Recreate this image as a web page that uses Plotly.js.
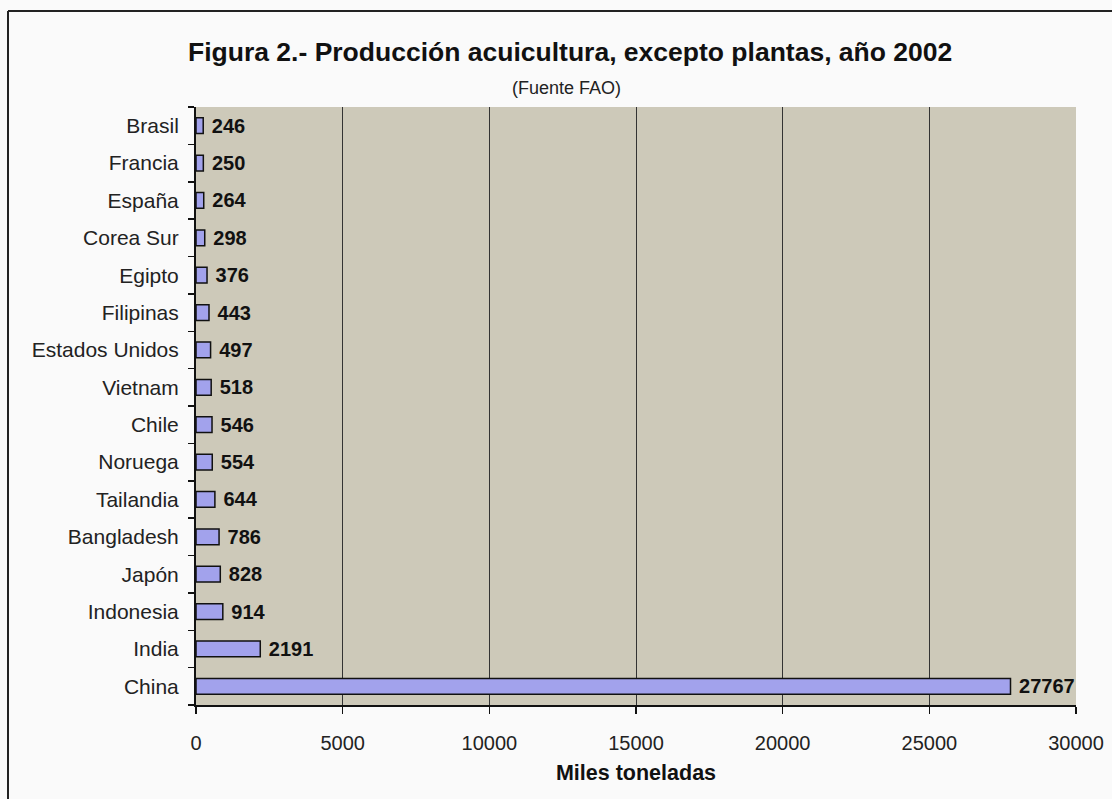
<!DOCTYPE html>
<html>
<head>
<meta charset="utf-8">
<script src="https://cdn.plot.ly/plotly-3.0.1.min.js"></script>
<style>html,body{margin:0;padding:0;background:#fafafa;}</style>
</head>
<body>
<div id="chart" style="width:1112px;height:799px;"></div>
<script>
const countries = ["China","India","Indonesia","Japón","Bangladesh","Tailandia","Noruega","Chile","Vietnam","Estados Unidos","Filipinas","Egipto","Corea Sur","España","Francia","Brasil"];
const values = [27767,2191,914,828,786,644,554,546,518,497,443,376,298,264,250,246];
const xTicks = [0,5000,10000,15000,20000,25000,30000];
const titleText = "Figura 2.- Producción acuicultura, excepto plantas, año 2002";
const subtitleText = "(Fuente FAO)";
const xTitle = "Miles toneladas";

const FONT = "Liberation Sans, Arial, sans-serif";
const trace = {
  type: "bar",
  orientation: "h",
  y: countries,
  x: values,
  width: 0.42,
  marker: {color: "#a2a2ec", line: {color: "#111", width: 1.5}},
  text: values.map(v => "\u00a0" + v),
  textposition: "outside",
  constraintext: "none",
  cliponaxis: false,
  textfont: {family: FONT, size: 20, color: "#111", weight: "bold"},
  hoverinfo: "none"
};

const L = 196, R = 1076, T = 107, B = 705;
const pw = R - L, ph = B - T;
const px = v => (v - L) / pw;
const py = v => (B - v) / ph;

const layout = {
  width: 1112, height: 799,
  margin: {l: L, r: 1112 - R, t: T, b: 799 - B, pad: 0},
  paper_bgcolor: "#fafafa",
  plot_bgcolor: "#cdc9b9",
  showlegend: false,
  font: {family: FONT, color: "#222"},
  xaxis: {
    range: [0, 30000],
    tickvals: xTicks,
    ticktext: xTicks.map(String),
    showgrid: true, gridcolor: "#333", gridwidth: 1,
    zeroline: false,
    showline: true, linecolor: "#111", linewidth: 2,
    ticks: "outside", ticklen: 7, tickcolor: "#111", tickwidth: 1.5,
    ticklabelstandoff: 12,
    tickfont: {size: 20, family: FONT, color: "#222"},
    title: {text: xTitle, font: {size: 21.5, family: FONT, color: "#111", weight: "bold"}, standoff: 12},
    fixedrange: true
  },
  yaxis: {
    type: "category",
    showgrid: false, zeroline: false,
    showline: true, linecolor: "#111", linewidth: 2,
    ticks: "outside", tickson: "boundaries", ticklen: 6, tickcolor: "#111", tickwidth: 1.5,
    tickfont: {size: 21, family: FONT, color: "#222"},
    ticklabelstandoff: 11,
    fixedrange: true
  },
  annotations: [
    {text: "<b>" + titleText + "</b>", xref: "paper", yref: "paper", x: px(570), y: py(52),
     xanchor: "center", yanchor: "middle", showarrow: false,
     font: {size: 26.5, family: FONT, color: "#111"}},
    {text: subtitleText, xref: "paper", yref: "paper", x: px(566), y: py(88),
     xanchor: "center", yanchor: "middle", showarrow: false,
     font: {size: 18, family: FONT, color: "#222"}}
  ],
  shapes: [
    {type: "line", xref: "paper", yref: "paper", x0: px(8), x1: px(8), y0: py(830), y1: py(11),
     line: {color: "#222", width: 2}},
    {type: "line", xref: "paper", yref: "paper", x0: px(8), x1: px(1140), y0: py(11), y1: py(11),
     line: {color: "#222", width: 2}}
  ]
};

Plotly.newPlot("chart", [trace], layout, {displayModeBar: false, staticPlot: true});
</script>
</body>
</html>
